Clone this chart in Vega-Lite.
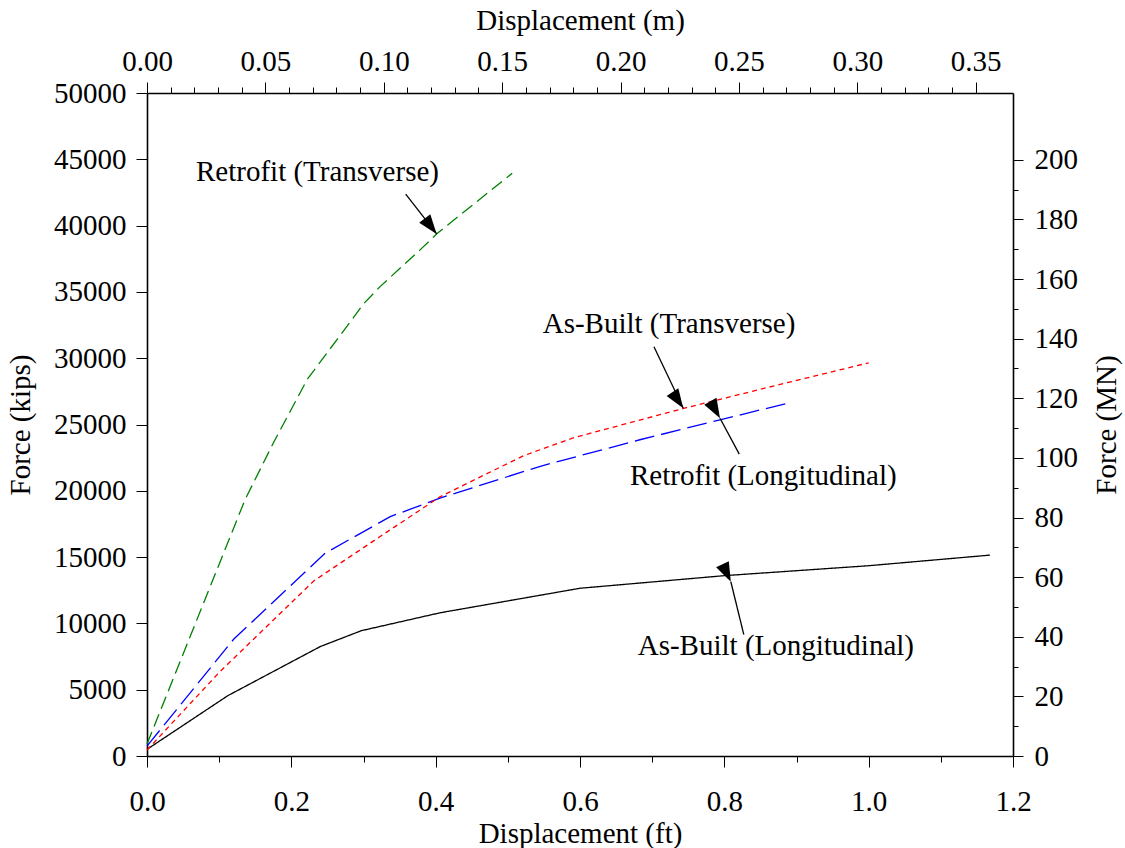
{
  "$schema": "https://vega.github.io/schema/vega-lite/v6.json",
  "width": 866,
  "height": 663,
  "autosize": {"type": "none"},
  "padding": {"left": 147, "top": 93, "right": 112, "bottom": 92},
  "background": "white",
  "config": {
    "view": {"stroke": null},
    "font": "Liberation Serif",
    "axis": {
      "grid": false,
      "domainColor": "black",
      "domainWidth": 1.6,
      "tickColor": "black",
      "tickWidth": 1,
      "labelColor": "black",
      "titleColor": "black",
      "labelFont": "Liberation Serif",
      "titleFont": "Liberation Serif",
      "labelFontSize": 29,
      "titleFontSize": 29,
      "titleFontWeight": "normal",
      "labelFlush": false,
      "labelOverlap": false,
      "labelBound": false
    }
  },
  "datasets": {
    "curves": [
      {"series": "As-Built (Longitudinal)", "ft": 0, "kips": 500},
      {"series": "As-Built (Longitudinal)", "ft": 0.112, "kips": 4550},
      {"series": "As-Built (Longitudinal)", "ft": 0.24, "kips": 8250},
      {"series": "As-Built (Longitudinal)", "ft": 0.297, "kips": 9450},
      {"series": "As-Built (Longitudinal)", "ft": 0.406, "kips": 10800},
      {"series": "As-Built (Longitudinal)", "ft": 0.6, "kips": 12650},
      {"series": "As-Built (Longitudinal)", "ft": 0.8, "kips": 13600},
      {"series": "As-Built (Longitudinal)", "ft": 1.0, "kips": 14350},
      {"series": "As-Built (Longitudinal)", "ft": 1.168, "kips": 15150},
      {"series": "Retrofit (Longitudinal)", "ft": 0, "kips": 750},
      {"series": "Retrofit (Longitudinal)", "ft": 0.12, "kips": 8800},
      {"series": "Retrofit (Longitudinal)", "ft": 0.247, "kips": 15300},
      {"series": "Retrofit (Longitudinal)", "ft": 0.337, "kips": 18050},
      {"series": "Retrofit (Longitudinal)", "ft": 0.406, "kips": 19450},
      {"series": "Retrofit (Longitudinal)", "ft": 0.545, "kips": 21850},
      {"series": "Retrofit (Longitudinal)", "ft": 0.683, "kips": 23850},
      {"series": "Retrofit (Longitudinal)", "ft": 0.794, "kips": 25350},
      {"series": "Retrofit (Longitudinal)", "ft": 0.891, "kips": 26650},
      {"series": "As-Built (Transverse)", "ft": 0, "kips": 450},
      {"series": "As-Built (Transverse)", "ft": 0.1, "kips": 6300},
      {"series": "As-Built (Transverse)", "ft": 0.231, "kips": 13200},
      {"series": "As-Built (Transverse)", "ft": 0.323, "kips": 16550},
      {"series": "As-Built (Transverse)", "ft": 0.406, "kips": 19550},
      {"series": "As-Built (Transverse)", "ft": 0.462, "kips": 21050},
      {"series": "As-Built (Transverse)", "ft": 0.522, "kips": 22650},
      {"series": "As-Built (Transverse)", "ft": 0.591, "kips": 24000},
      {"series": "As-Built (Transverse)", "ft": 0.746, "kips": 26250},
      {"series": "As-Built (Transverse)", "ft": 0.868, "kips": 27900},
      {"series": "As-Built (Transverse)", "ft": 1.0, "kips": 29650},
      {"series": "Retrofit (Transverse)", "ft": 0, "kips": 900},
      {"series": "Retrofit (Transverse)", "ft": 0.136, "kips": 19350},
      {"series": "Retrofit (Transverse)", "ft": 0.175, "kips": 23600},
      {"series": "Retrofit (Transverse)", "ft": 0.222, "kips": 28400},
      {"series": "Retrofit (Transverse)", "ft": 0.277, "kips": 32400},
      {"series": "Retrofit (Transverse)", "ft": 0.3, "kips": 34100},
      {"series": "Retrofit (Transverse)", "ft": 0.323, "kips": 35400},
      {"series": "Retrofit (Transverse)", "ft": 0.378, "kips": 38150},
      {"series": "Retrofit (Transverse)", "ft": 0.402, "kips": 39400},
      {"series": "Retrofit (Transverse)", "ft": 0.506, "kips": 43950}
    ],
    "labels": [
      {"label": "Retrofit (Transverse)", "ft": 0.0679, "kips": 43380},
      {"label": "As-Built (Transverse)", "ft": 0.5483, "kips": 31880},
      {"label": "Retrofit (Longitudinal)", "ft": 0.6693, "kips": 20440},
      {"label": "As-Built (Longitudinal)", "ft": 0.68, "kips": 7620}
    ],
    "arrows": [
      {"label": "Retrofit (Transverse)", "ft": 0.4014, "kips": 39370, "ft2": 0.3585, "kips2": 42380},
      {"label": "As-Built (Transverse)", "ft": 0.7431, "kips": 26220, "ft2": 0.7025, "kips2": 30870},
      {"label": "Retrofit (Longitudinal)", "ft": 0.794, "kips": 25470, "ft2": 0.8207, "kips2": 22770},
      {"label": "As-Built (Longitudinal)", "ft": 0.809, "kips": 13140, "ft2": 0.827, "kips2": 9160}
    ],
    "axisdummy": [{"m": 0, "mn": 0}]
  },
  "layer": [
    {
      "encoding": {
        "x": {
          "field": "ft",
          "type": "quantitative",
          "scale": {"domain": [0, 1.2], "nice": false, "zero": false},
          "axis": {
            "orient": "bottom",
            "title": "Displacement (ft)",
            "values": [0, 0.1, 0.2, 0.3, 0.4, 0.5, 0.6, 0.7, 0.8, 0.9, 1.0, 1.1, 1.2],
            "labelExpr": "round(datum.value*10) % 2 == 0 ? format(datum.value, '.1f') : ''",
            "tickSize": {"condition": {"test": "round(datum.value*10) % 2 == 0", "value": 11}, "value": 6},
            "labelPadding": 20,
            "titlePadding": 3
          }
        },
        "y": {
          "field": "kips",
          "type": "quantitative",
          "scale": {"domain": [0, 50000], "nice": false, "zero": false},
          "axis": {
            "orient": "left",
            "title": "Force (kips)",
            "values": [0, 5000, 10000, 15000, 20000, 25000, 30000, 35000, 40000, 45000, 50000],
            "format": "d",
            "tickSize": 11,
            "labelPadding": 10,
            "titlePadding": 18
          }
        }
      },
      "layer": [
        {
          "data": {"name": "curves"},
          "mark": {"type": "line", "strokeWidth": 1.3},
          "encoding": {
            "color": {
              "field": "series",
              "type": "nominal",
              "scale": {
                "domain": ["As-Built (Longitudinal)", "Retrofit (Longitudinal)", "As-Built (Transverse)", "Retrofit (Transverse)"],
                "range": ["#000000", "#0000ff", "#ff0000", "#008000"]
              },
              "legend": null
            },
            "strokeDash": {
              "field": "series",
              "type": "nominal",
              "scale": {
                "domain": ["As-Built (Longitudinal)", "Retrofit (Longitudinal)", "As-Built (Transverse)", "Retrofit (Transverse)"],
                "range": [[1, 0], [20, 7], [5, 4], [13, 6]]
              },
              "legend": null
            }
          }
        },
        {
          "data": {"name": "arrows"},
          "mark": {"type": "rule", "color": "black", "strokeWidth": 1.3},
          "encoding": {
            "x2": {"field": "ft2"},
            "y2": {"field": "kips2"}
          }
        },
        {
          "data": {"name": "arrows"},
          "mark": {
            "type": "point",
            "shape": "M0,0L-0.72,2L0.72,2Z",
            "filled": true,
            "color": "black",
            "opacity": 1,
            "size": 380,
            "strokeWidth": 0
          },
          "encoding": {
            "angle": {
              "field": "label",
              "type": "nominal",
              "scale": {
                "domain": ["Retrofit (Transverse)", "As-Built (Transverse)", "Retrofit (Longitudinal)", "As-Built (Longitudinal)"],
                "range": [142.2, 154.6, 331.6, 346.5]
              },
              "legend": null
            }
          }
        },
        {
          "data": {"name": "labels"},
          "mark": {
            "type": "text",
            "align": "left",
            "baseline": "alphabetic",
            "font": "Liberation Serif",
            "fontSize": 29,
            "color": "black"
          },
          "encoding": {
            "text": {"field": "label", "type": "nominal"}
          }
        }
      ]
    },
    {
      "data": {"name": "axisdummy"},
      "mark": {"type": "point", "opacity": 0},
      "encoding": {
        "x": {
          "field": "m",
          "type": "quantitative",
          "scale": {"domain": [0, 0.36576], "nice": false, "zero": false},
          "axis": {
            "orient": "top",
            "title": "Displacement (m)",
            "values": [0, 0.01, 0.02, 0.03, 0.04, 0.05, 0.06, 0.07, 0.08, 0.09, 0.1, 0.11, 0.12, 0.13, 0.14, 0.15, 0.16, 0.17, 0.18, 0.19, 0.2, 0.21, 0.22, 0.23, 0.24, 0.25, 0.26, 0.27, 0.28, 0.29, 0.3, 0.31, 0.32, 0.33, 0.34, 0.35],
            "labelExpr": "round(datum.value*100) % 5 == 0 ? format(datum.value, '.2f') : ''",
            "tickSize": {"condition": {"test": "round(datum.value*100) % 5 == 0", "value": 11}, "value": 6},
            "labelPadding": 6,
            "titlePadding": 12
          }
        },
        "y": {
          "field": "mn",
          "type": "quantitative",
          "scale": {"domain": [0, 222.411], "nice": false, "zero": false},
          "axis": {
            "orient": "right",
            "title": "Force (MN)",
            "values": [0, 10, 20, 30, 40, 50, 60, 70, 80, 90, 100, 110, 120, 130, 140, 150, 160, 170, 180, 190, 200],
            "labelExpr": "round(datum.value) % 20 == 0 ? format(datum.value, 'd') : ''",
            "tickSize": {"condition": {"test": "round(datum.value) % 20 == 0", "value": 10}, "value": 5},
            "labelPadding": 11,
            "titleAngle": -90,
            "titleBaseline": "top",
            "titlePadding": 15
          }
        }
      }
    }
  ],
  "resolve": {"scale": {"x": "independent", "y": "independent"}}
}
